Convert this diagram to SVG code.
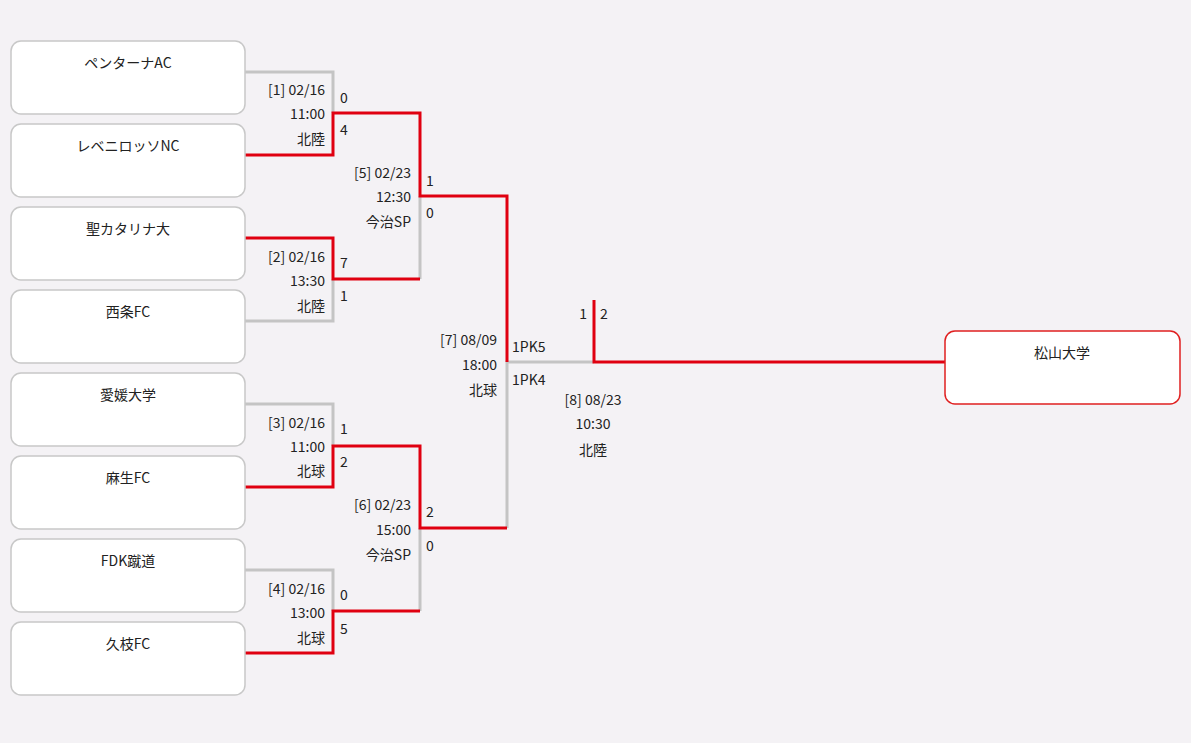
<svg xmlns="http://www.w3.org/2000/svg" width="1191" height="743" viewBox="0 0 1191 743">
<style>
.box{fill:#fff;stroke:#c8c8c8;stroke-width:1.5}
.win{fill:#fff;stroke:#e02020;stroke-width:1.5}
.g{fill:none;stroke:#c4c4c4;stroke-width:3}
.r{fill:none;stroke:#e00010;stroke-width:3}
text{font-family:"Noto Sans CJK JP","Liberation Sans",sans-serif;font-size:14px;fill:#222}
.c{text-anchor:middle}
.e{text-anchor:end}
</style>
<rect width="1191" height="743" fill="#f4f2f5"/>
<g id="connectors">
<path class="g" d="M245,72H333V113M245,321H333V279M420,279V196M245,404H333V446M245,570H333V611M420,611V528M507,528V362H594"/>
<path class="r" d="M245,155H333V113H420V196H507V362M245,238H333V279H420M245,487H333V446H420V528H507M245,653H333V611H420M594,300V362H945"/>
</g>
<g id="t1"><rect class="box" x="11" y="41" width="234" height="73" rx="10"/><text class="c" x="128" y="68">ペンターナAC</text></g>
<g id="t2"><rect class="box" x="11" y="124" width="234" height="73" rx="10"/><text class="c" x="128" y="151">レベニロッソNC</text></g>
<g id="t3"><rect class="box" x="11" y="207" width="234" height="73" rx="10"/><text class="c" x="128" y="234">聖カタリナ大</text></g>
<g id="t4"><rect class="box" x="11" y="290" width="234" height="73" rx="10"/><text class="c" x="128" y="317">西条FC</text></g>
<g id="t5"><rect class="box" x="11" y="373" width="234" height="73" rx="10"/><text class="c" x="128" y="400">愛媛大学</text></g>
<g id="t6"><rect class="box" x="11" y="456" width="234" height="73" rx="10"/><text class="c" x="128" y="483">麻生FC</text></g>
<g id="t7"><rect class="box" x="11" y="539" width="234" height="73" rx="10"/><text class="c" x="128" y="566">FDK蹴道</text></g>
<g id="t8"><rect class="box" x="11" y="622" width="234" height="73" rx="10"/><text class="c" x="128" y="649">久枝FC</text></g>
<g id="champ"><rect class="win" x="945" y="331" width="235" height="73" rx="10"/><text class="c" x="1062" y="358">松山大学</text></g>
<g id="m1"><text class="e" x="325" y="95">[1] 02/16</text><text class="e" x="325" y="119">11:00</text><text class="e" x="325" y="144">北陸</text><text x="340" y="103">0</text><text x="340" y="135">4</text></g>
<g id="m2"><text class="e" x="325" y="262">[2] 02/16</text><text class="e" x="325" y="286">13:30</text><text class="e" x="325" y="311">北陸</text><text x="340" y="268">7</text><text x="340" y="301">1</text></g>
<g id="m3"><text class="e" x="325" y="428">[3] 02/16</text><text class="e" x="325" y="452">11:00</text><text class="e" x="325" y="476">北球</text><text x="340" y="434">1</text><text x="340" y="467">2</text></g>
<g id="m4"><text class="e" x="325" y="594">[4] 02/16</text><text class="e" x="325" y="618">13:00</text><text class="e" x="325" y="643">北球</text><text x="340" y="600">0</text><text x="340" y="634">5</text></g>
<g id="m5"><text class="e" x="411" y="178">[5] 02/23</text><text class="e" x="411" y="202">12:30</text><text class="e" x="411" y="227">今治SP</text><text x="426" y="186">1</text><text x="426" y="218">0</text></g>
<g id="m6"><text class="e" x="411" y="510">[6] 02/23</text><text class="e" x="411" y="535">15:00</text><text class="e" x="411" y="560">今治SP</text><text x="426" y="517">2</text><text x="426" y="551">0</text></g>
<g id="m7"><text class="e" x="497" y="345">[7] 08/09</text><text class="e" x="497" y="370">18:00</text><text class="e" x="497" y="395">北球</text><text x="512" y="352">1PK5</text><text x="512" y="385">1PK4</text></g>
<g id="m8"><text class="e" x="587" y="319">1</text><text x="600" y="319">2</text><text class="c" x="593" y="405">[8] 08/23</text><text class="c" x="593" y="429">10:30</text><text class="c" x="593" y="455">北陸</text></g>
</svg>
